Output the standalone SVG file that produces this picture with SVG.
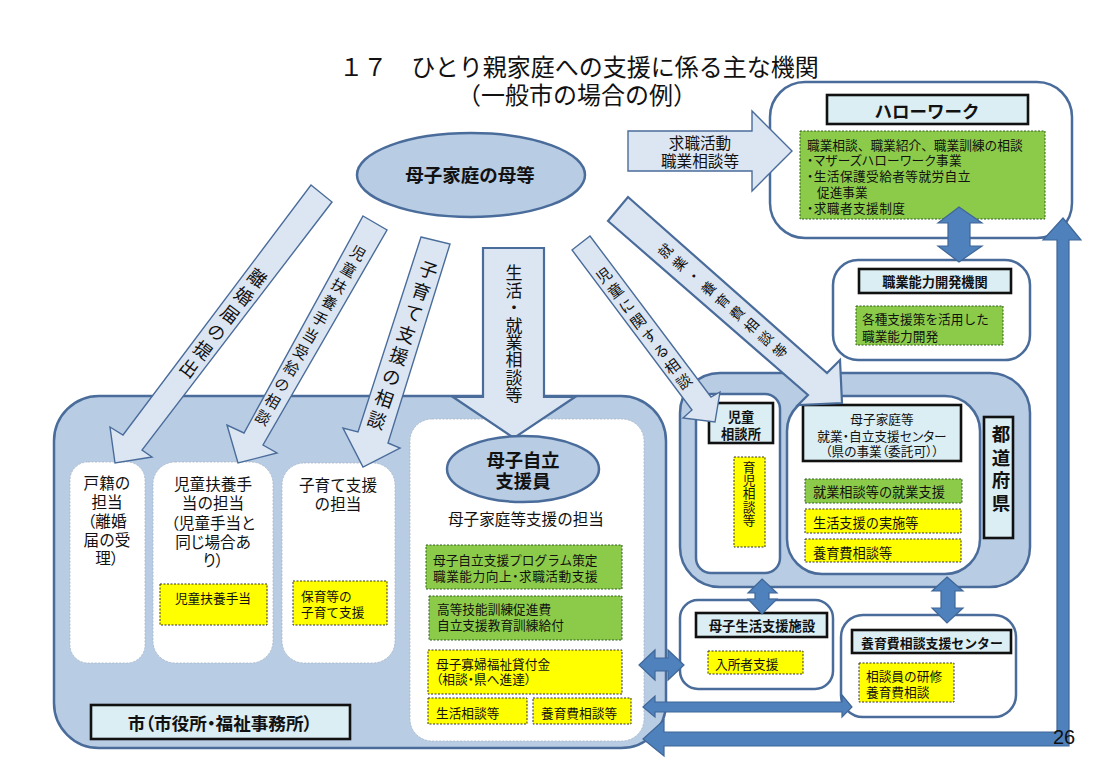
<svg xmlns="http://www.w3.org/2000/svg" width="1105" height="781" viewBox="0 0 1105 781">
<style>
text{font-family:"Noto Sans CJK JP","Noto Sans",sans-serif;fill:#111;font-size:12.7px;dominant-baseline:central}
.c{text-anchor:middle}
.b{font-weight:700}
.m{font-size:15.6px}
.p{font-feature-settings:"palt"}
.t{font-size:24px}
.v{writing-mode:vertical-rl;text-anchor:middle;dominant-baseline:auto}
.region{fill:#b8cce4;stroke:#4a6c9b;stroke-width:2.5}
.box{fill:#fff;stroke:#4a6c9b;stroke-width:2.5}
.panel{fill:#fff;stroke:#a9b6c6;stroke-width:.8;stroke-dasharray:2 1.5}
.label{fill:#dbeef4;stroke:#111;stroke-width:2.6}
.g{fill:#8ccb4a;stroke:#2f5d1e;stroke-width:1;stroke-dasharray:2 1.5}
.y{fill:#ff0;stroke:#333;stroke-width:1;stroke-dasharray:2 1.5}
.oval{fill:#b8cce4;stroke:#4a6c9b;stroke-width:2.5}
.light{fill:#dce6f2;stroke:#4a6c9b;stroke-width:1.4;stroke-linejoin:miter}
.heavy{stroke-width:2.2}
.dark{fill:#4f81bd;stroke:#3f6797;stroke-width:1.2}
</style>
<g id="title">
<text class="t c" x="579" y="65">１７　ひとり親家庭への支援に係る主な機関</text>
<text class="t c" x="577" y="93">（一般市の場合の例）</text>
</g>
<g id="city">
<rect class="region" x="54" y="396" width="612" height="352" rx="45"/>
<rect class="label" x="91" y="705" width="259" height="34"/>
<text class="c b p" style="font-size:17.6px" x="220" y="722">市（市役所・福祉事務所）</text>
</g>
<g id="koseki">
<rect class="panel" x="70" y="462" width="75" height="201" rx="18"/>
<text class="m c" x="107" y="482">戸籍の</text><text class="m c" x="107" y="501">担当</text><text class="m c p" x="107" y="520">（離婚</text><text class="m c" x="107" y="539">届の受</text><text class="m c p" x="107" y="557">理）</text>
</g>
<g id="jido-fuyo">
<rect class="panel" x="153" y="462" width="120" height="201" rx="22"/>
<text class="m c" x="213" y="483">児童扶養手</text><text class="m c" x="213" y="502">当の担当</text><text class="m c p" x="213" y="522">（児童手当と</text><text class="m c p" x="213" y="541">同じ場合あ</text><text class="m c p" x="213" y="559">り）</text>
<rect class="y" x="160" y="584" width="107" height="41"/>
<text class="c" x="213" y="597">児童扶養手当</text>
</g>
<g id="kosodate">
<rect class="panel" x="282" y="463" width="113" height="200" rx="22"/>
<text class="m c" x="338" y="484">子育て支援</text><text class="m c" x="338" y="503">の担当</text>
<rect class="y" x="293" y="581" width="94" height="44"/>
<text x="301" y="595">保育等の</text><text x="301" y="611">子育て支援</text>
</g>
<g id="boshi-panel">
<rect class="panel" x="410" y="419" width="234" height="322" rx="22"/>
<text class="m c" x="526" y="518">母子家庭等支援の担当</text>
<rect class="g" x="426" y="545" width="196" height="44"/>
<text x="433" y="559">母子自立支援プログラム策定</text><text class="p" style="letter-spacing:.5px" x="433" y="575">職業能力向上・求職活動支援</text>
<rect class="g" x="429" y="596" width="193" height="44"/>
<text x="437" y="608">高等技能訓練促進費</text><text x="437" y="624">自立支援教育訓練給付</text>
<rect class="y" x="428" y="650" width="194" height="44"/>
<text x="436" y="663">母子寡婦福祉貸付金</text><text class="p" x="436" y="678">（相談・県へ進達）</text>
<rect class="y" x="428" y="698" width="99" height="26"/>
<text x="436" y="712">生活相談等</text>
<rect class="y" x="533" y="698" width="98" height="26"/>
<text x="541" y="712">養育費相談等</text>
</g>
<g id="prefecture">
<rect class="region" x="680" y="373" width="350" height="214" rx="40"/>
<rect class="label" x="984" y="417" width="29" height="121"/>
<text class="b c" style="font-size:18.5px" x="1001" y="433">都</text><text class="b c" style="font-size:18.5px" x="1001" y="457">道</text><text class="b c" style="font-size:18.5px" x="1001" y="479">府</text><text class="b c" style="font-size:18.5px" x="1001" y="502">県</text>
</g>
<g id="jido-sodanjo">
<rect class="box" x="696" y="394" width="84" height="179" rx="15"/>
<rect class="label" x="709" y="403" width="64" height="40"/>
<text class="c b" style="font-size:13.3px" x="741" y="416">児童</text><text class="c b" style="font-size:13.3px" x="741" y="433">相談所</text>
<rect class="y" x="734" y="457" width="31" height="90"/>
<text class="v" style="letter-spacing:.7px" x="749" y="494">育児相談等</text>
</g>
<g id="center">
<rect class="box" x="787" y="396" width="193" height="178" rx="35"/>
<rect class="label" x="803" y="405" width="158" height="56"/>
<text class="c" x="882" y="418">母子家庭等</text><text class="c p" x="882" y="435">就業・自立支援センター</text><text class="c p" x="882" y="450">（県の事業（委託可））</text>
<rect class="g" x="805" y="479" width="157" height="24"/>
<text style="font-size:13.2px" x="813" y="491">就業相談等の就業支援</text>
<rect class="y" x="805" y="509" width="156" height="24"/>
<text style="font-size:13.2px" x="813" y="522">生活支援の実施等</text>
<rect class="y" x="805" y="539" width="156" height="23"/>
<text style="font-size:13.2px" x="813" y="552">養育費相談等</text>
</g>
<g id="boshi-seikatsu">
<rect class="box" x="680" y="600" width="153" height="89" rx="18"/>
<rect class="label" x="696" y="613" width="131" height="24"/>
<text class="c b" style="font-size:13.3px" x="762" y="625">母子生活支援施設</text>
<rect class="y" x="708" y="651" width="95" height="23"/>
<text x="715" y="663">入所者支援</text>
</g>
<g id="yoikuhi">
<rect class="box" x="841" y="615" width="175" height="102" rx="22"/>
<rect class="label" x="852" y="630" width="159" height="23"/>
<text class="c b" style="font-size:12.9px" x="932" y="642">養育費相談支援センター</text>
<rect class="y" x="859" y="663" width="95" height="39"/>
<text x="866" y="675">相談員の研修</text><text x="866" y="691">養育費相談</text>
</g>
<g id="hellowork">
<rect class="box" x="770" y="82" width="302" height="156" rx="35"/>
<rect class="label" x="827" y="95" width="201" height="29"/>
<text class="c b" style="font-size:17.5px" x="927" y="110">ハローワーク</text>
<rect class="g" x="800" y="131" width="245" height="88"/>
<text x="807" y="144">職業相談、職業紹介、職業訓練の相談</text><text class="p" style="letter-spacing:.3px" x="807" y="159">・マザーズハローワーク事業</text><text class="p" style="letter-spacing:.4px" x="807" y="175">・生活保護受給者等就労自立</text><text x="817" y="191">促進事業</text><text class="p" style="letter-spacing:.4px" x="807" y="207">・求職者支援制度</text>
</g>
<g id="shokugyo">
<rect class="box" x="833" y="260" width="197" height="100" rx="25"/>
<rect class="label" x="859" y="269" width="152" height="24"/>
<text class="c b" style="font-size:13.2px" x="935" y="281">職業能力開発機関</text>
<rect class="g" x="856" y="306" width="147" height="39"/>
<text x="862" y="318">各種支援策を活用した</text><text x="862" y="335">職業能力開発</text>
</g>
<g id="connectors">
<polygon class="light" points="628,131 752,131 752,111 792,151 752,191 752,171 628,171"/>
<polygon class="light" points="311,185 332,202 142,450 152,457 115,463 110,427 123,435"/>
<polygon class="light" points="363,216 387,230 263,445 277,453 238,463 227,425 244,433"/>
<polygon class="light" points="421,237 450,244 388,443 400,448 363,467 343,428 358,432"/>
<polygon class="light heavy" points="483,248 544,248 544,397 575,397 514,438 453,397 483,397"/>
<polygon class="light" points="572,250 590,236 711,397 720,392 715,422 683,418 692,410"/>
<polygon class="light heavy" points="608,221 628,197 827,373 840,360 842,403 798,405 808,395"/>
<polygon class="dark" points="959,207 982,223 970,223 970,246 982,246 959,262 938,246 948,246 948,223 938,223"/>
<polygon class="dark" points="762,579 777,593 769,593 769,599 777,599 762,614 748,599 755,599 755,593 748,593"/>
<polygon class="dark" points="947,577 963,591 955,591 955,608 963,608 947,623 932,608 941,608 941,591 932,591"/>
<polygon class="dark" points="639,665 655,650 655,658 668,658 668,650 684,665 668,680 668,671 655,671 655,680"/>
<polygon class="dark" points="643,707 655,696 655,702 842,702 842,695 852,707 842,717 842,712 655,712 655,717"/>
<polygon class="dark" points="643,739 664,720 664,732 1057,732 1057,240 1043,240 1063,218 1081,240 1069,240 1069,746 664,746 664,756"/>
</g>
<g id="connector-labels">
<text class="m c" x="700" y="142">求職活動</text>
<text class="m c" x="700" y="160">職業相談等</text>
<text class="v" style="font-size:18px;letter-spacing:4.6px" transform="translate(222,325) rotate(37)">離婚届の提出</text>
<text class="v" style="font-size:15px;letter-spacing:4px" transform="translate(309.5,337) rotate(30)">児童扶養手当受給の相談</text>
<text class="v" style="font-size:18.5px;letter-spacing:4.2px" transform="translate(402,347) rotate(19)">子育て支援の相談</text>
<text class="v" style="font-size:17px;letter-spacing:.4px" transform="translate(514,334)">生活・就業相談等</text>
<text class="v" style="font-size:15px;letter-spacing:4px" transform="translate(645,330) rotate(-37)">児童に関する相談</text>
<text class="v" style="font-size:14px;letter-spacing:5px" transform="translate(724.5,302.5) rotate(-49)">就業・養育費相談等</text>
</g>
<g id="boshi-jiritsu">
<ellipse class="oval" cx="523" cy="469" rx="76" ry="33"/>
<text class="c b" style="font-size:18.3px" x="523" y="459">母子自立</text><text class="c b" style="font-size:18.3px" x="523" y="480">支援員</text>
</g>
<g id="mother">
<ellipse class="oval" cx="471" cy="175" rx="114" ry="42"/>
<text class="c b" style="font-size:18.5px" x="470" y="174">母子家庭の母等</text>
</g>
<g id="page-number"><text style="font-family:'Liberation Sans',sans-serif;font-size:20px" x="1053" y="737">26</text></g>
</svg>
